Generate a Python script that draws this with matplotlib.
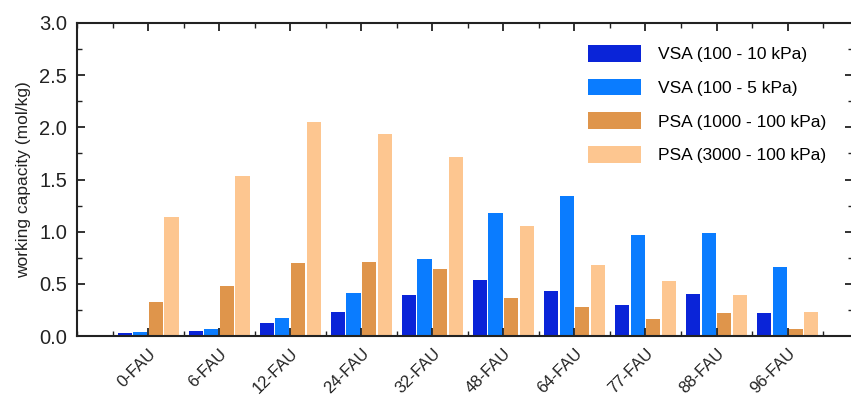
import matplotlib
matplotlib.use("Agg")
import matplotlib.pyplot as plt
import numpy as np
from matplotlib.ticker import MultipleLocator

plt.rcParams['font.family'] = ['Liberation Sans', 'DejaVu Sans']

categories = ["0-FAU", "6-FAU", "12-FAU", "24-FAU", "32-FAU", "48-FAU", "64-FAU", "77-FAU", "88-FAU", "96-FAU"]
series_names = ["VSA (100 - 10 kPa)", "VSA (100 - 5 kPa)", "PSA (1000 - 100 kPa)", "PSA (3000 - 100 kPa)"]
vsa_10 = [0.026, 0.045, 0.12, 0.23, 0.39, 0.54, 0.43, 0.30, 0.40, 0.224]
vsa_5 = [0.035, 0.064, 0.175, 0.41, 0.74, 1.18, 1.34, 0.965, 0.985, 0.66]
psa_1000 = [0.33, 0.48, 0.70, 0.71, 0.64, 0.36, 0.275, 0.163, 0.224, 0.07]
psa_3000 = [1.14, 1.537, 2.05, 1.94, 1.716, 1.05, 0.68, 0.53, 0.39, 0.227]
colors = ["#0a24d8", "#0a7cff", "#df954b", "#fdc690"]

fig = plt.figure(figsize=(8.51, 3.96), dpi=100)
ax = fig.add_axes([77/851, 1-336/396, (853-77)/851, (336-23)/396])

x = np.arange(len(categories))
offsets = [-0.33, -0.11, 0.11, 0.33]
for vals, off, c, name in zip([vsa_10, vsa_5, psa_1000, psa_3000], offsets, colors, series_names):
    ax.bar(x + off, vals, width=0.2, color=c, label=name, linewidth=0)

ax.set_xlim(-1, 9.92)
ax.set_ylim(0, 3.0)
ax.set_xticks(x)
ax.set_xticklabels(categories, rotation=45, ha='right', rotation_mode='anchor', fontsize=12, color='#222')
ax.xaxis.set_minor_locator(MultipleLocator(0.5))
ax.yaxis.set_major_locator(MultipleLocator(0.5))
ax.yaxis.set_minor_locator(MultipleLocator(0.25))
ax.yaxis.set_major_formatter(matplotlib.ticker.FormatStrFormatter('%.1f'))
ax.tick_params(axis='both', which='both', direction='in', top=True, right=True, color='#222')
ax.tick_params(axis='both', which='major', length=6, width=1.3)
ax.tick_params(axis='both', which='minor', length=3.5, width=1.0)
ax.tick_params(axis='y', labelsize=14.5, labelcolor='#222', pad=7)
ax.tick_params(axis='x', pad=7)
for s in ax.spines.values():
    s.set_linewidth(1.5)
    s.set_color('#222')

ax.set_ylabel("working capacity (mol/kg)", fontsize=12.5, color='#222', labelpad=6)

ax.legend(loc='upper left', bbox_to_anchor=(0.658, 0.93), frameon=False, fontsize=12.5,
          handlelength=3.1, handleheight=1.1, labelspacing=0.95, handletextpad=0.95,
          borderpad=0, borderaxespad=0)

fig.savefig("out.png", dpi=100)
